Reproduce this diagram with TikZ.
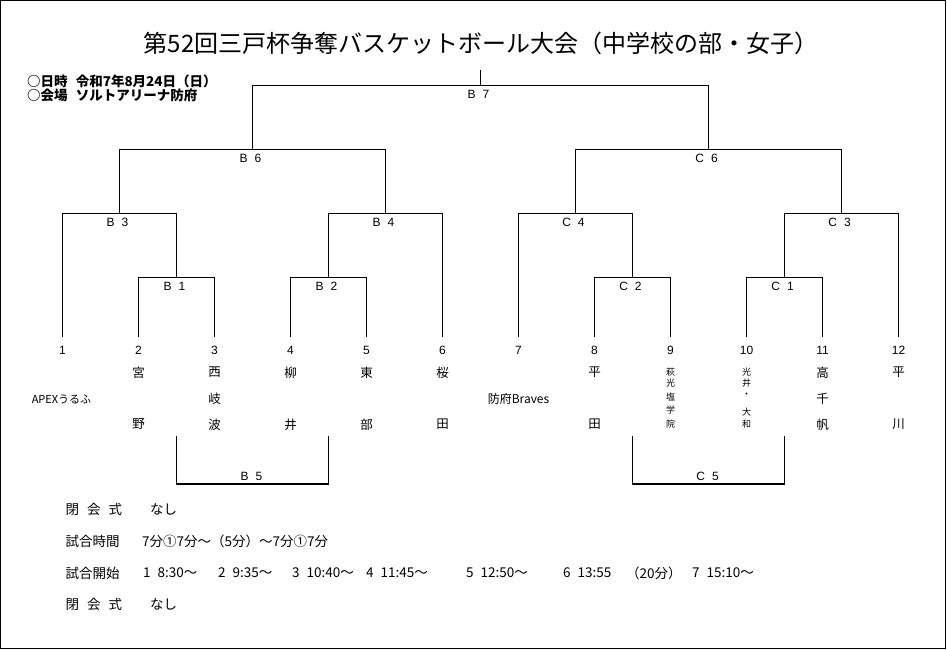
\documentclass[tikz,border=0pt]{standalone}
\usepackage{fontspec}
\setmainfont{Liberation Sans}
\newfontfamily\jp{Noto Sans CJK JP}
\tikzset{
  br/.style={line width=1.1pt},
  frame/.style={line width=1.2pt},
  lbl/.style={font=\fontsize{12}{12}\selectfont, inner sep=0},
  num/.style={font=\fontsize{12}{12}\selectfont, inner sep=0},
  nm/.style={font=\jp\fontsize{12.5}{12.5}\selectfont, inner sep=0},
  sm/.style={font=\jp\fontsize{9}{9}\selectfont, inner sep=0},
  ttl/.style={font=\jp\fontsize{24}{24}\selectfont, inner sep=0},
  info/.style={font=\jp\bfseries\fontsize{13.5}{13.5}\selectfont, anchor=west, inner sep=0},
  txt/.style={font=\jp\fontsize{13.5}{13.5}\selectfont, anchor=west, inner sep=0},
}
\begin{document}
\begin{tikzpicture}[x=1pt,y=-1pt]
\useasboundingbox (0,0) rectangle (947,650);
\draw[frame] (0.6,0.6) rectangle (945.4,648.4);

% title and info
\node[ttl] (title) at (481,43) {第52回三戸杯争奪バスケットボール大会（中学校の部・女子）};
\node[info] (date) at (27,81) {○日時\hspace{0.6em}令和7年8月24日（日）};
\node[info] (venue) at (27,95.5) {○会場\hspace{0.6em}ソルトアリーナ防府};

% leaves and numbers
\foreach \k in {1,...,12} {
  \pgfmathsetmacro\xx{62.5+76*(\k-1)}
  \coordinate (l\k) at (\xx,337);
  \node[num] (t\k) at (\xx,350.5) {\k};
}

% joints
\coordinate (B1) at (176.5,277.5);
\coordinate (B2) at (328.5,277.5);
\coordinate (C2) at (632.5,277.5);
\coordinate (C1) at (784.5,277.5);
\coordinate (B3) at (119.5,213.5);
\coordinate (B4) at (385.5,213.5);
\coordinate (C4) at (575.5,213.5);
\coordinate (C3) at (841.5,213.5);
\coordinate (B6) at (252.5,149.5);
\coordinate (C6) at (708.5,149.5);
\coordinate (B7) at (480.5,85.5);
\coordinate (top) at (480.5,70);

% brackets
\draw[br] (l2) |- (B1) -| (l3);
\draw[br] (l4) |- (B2) -| (l5);
\draw[br] (l8) |- (C2) -| (l9);
\draw[br] (l10) |- (C1) -| (l11);
\draw[br] (l1) |- (B3) -| (B1);
\draw[br] (B2) |- (B4) -| (l6);
\draw[br] (l7) |- (C4) -| (C2);
\draw[br] (C1) |- (C3) -| (l12);
\draw[br] (B3) |- (B6) -| (B4);
\draw[br] (C4) |- (C6) -| (C3);
\draw[br] (B6) |- (B7) -| (C6);
\draw[br] (B7) -- (top);

% match labels
\node[lbl] (lB1) at (174.5,286.5) {B\hspace{7pt}1};
\node[lbl] (lB2) at (326.5,286.5) {B\hspace{7pt}2};
\node[lbl] (lC2) at (630.5,286.5) {C\hspace{7pt}2};
\node[lbl] (lC1) at (782.5,286.5) {C\hspace{7pt}1};
\node[lbl] (lB3) at (117.5,222.5) {B\hspace{7pt}3};
\node[lbl] (lB4) at (383.5,222.5) {B\hspace{7pt}4};
\node[lbl] (lC4) at (573.5,222.5) {C\hspace{7pt}4};
\node[lbl] (lC3) at (839.5,222.5) {C\hspace{7pt}3};
\node[lbl] (lB6) at (250.5,158.5) {B\hspace{7pt}6};
\node[lbl] (lC6) at (706.5,158.5) {C\hspace{7pt}6};
\node[lbl] (lB7) at (478.5,94.5) {B\hspace{7pt}7};

% consolation brackets
\coordinate (b5l) at (176.5,436);
\coordinate (b5r) at (328.5,436);
\coordinate (B5) at (252.5,484);
\coordinate (c5l) at (632.5,436);
\coordinate (c5r) at (784.5,436);
\coordinate (C5) at (708.5,484);
\draw[br] (b5l) |- (B5) -| (b5r);
\draw[br] (c5l) |- (C5) -| (c5r);
\node[lbl] (lB5) at (251.5,476.5) {B\hspace{7pt}5};
\node[lbl] (lC5) at (707.5,476.5) {C\hspace{7pt}5};

% team names
\node[nm, font=\jp\fontsize{11}{11}\selectfont] (n1) at (61.5,399) {APEXうるふ};
\node[nm, font=\jp\fontsize{12}{12}\selectfont] (n7) at (518.5,399) {防府Braves};
\foreach \i/\x/\y/\t in {
  a/138.5/372.5/宮, b/138.5/424.5/野,
  c/214.5/372.5/西, d/214.5/399/岐, e/214.5/424.5/波,
  f/290.5/372.5/柳, g/290.5/424.5/井,
  h/366.5/372.5/東, i/366.5/424.5/部,
  j/442.5/372.5/桜, k/442.5/424.5/田,
  l/594.5/372.5/平, m/594.5/424.5/田,
  n/822.5/372.5/高, o/822.5/399/千, p/822.5/424.5/帆,
  q/898.5/372.5/平, r/898.5/424.5/川} {
  \node[nm] (nm\i) at (\x,\y) {\t};
}
\foreach \i/\y/\t in {1/371.7/萩, 2/383/光, 3/396.7/塩, 4/410/学, 5/424.3/院} {
  \node[sm] (s9\i) at (670.5,\y) {\t};
}
\foreach \i/\y/\t in {1/371.7/光, 2/383.3/井, 3/395.7/・, 4/411.7/大, 5/424.3/和} {
  \node[sm] (s10\i) at (746.5,\y) {\t};
}

% bottom text
\node[txt] (oc) at (65.5,509) {閉\hspace{8pt}会\hspace{8pt}式};
\node[txt] (ocv) at (150,509) {なし};
\node[txt] (gt) at (65.5,541) {試合時間};
\node[txt] (gtv) at (142,541) {7分①7分～（5分）～7分①7分};
\node[txt] (gs) at (65.5,573) {試合開始};
\node[txt] (s1) at (143,573) {1\hspace{7pt}8:30～};
\node[txt] (s2) at (218,573) {2\hspace{7pt}9:35～};
\node[txt] (s3) at (292,573) {3\hspace{7pt}10:40～};
\node[txt] (s4) at (366,573) {4\hspace{7pt}11:45～};
\node[txt] (s5) at (466,573) {5\hspace{7pt}12:50～};
\node[txt] (s6) at (563,573) {6\hspace{7pt}13:55};
\node[txt] (s20) at (626,573) {（20分）};
\node[txt] (s7) at (692,573) {7\hspace{7pt}15:10～};
\node[txt] (cc) at (65.5,604) {閉\hspace{8pt}会\hspace{8pt}式};
\node[txt] (ccv) at (150,604) {なし};
\end{tikzpicture}
\end{document}
